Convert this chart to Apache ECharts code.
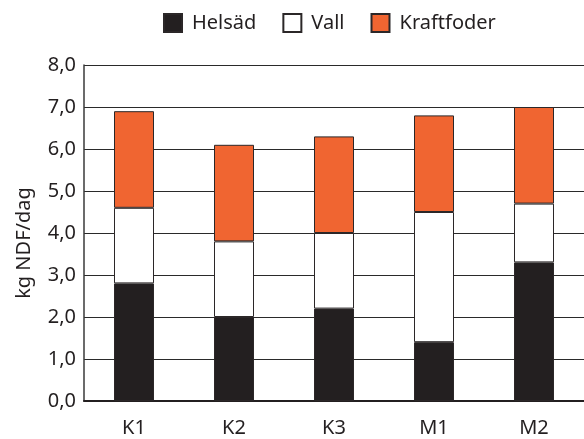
<!DOCTYPE html>
<html>
<head>
<meta charset="utf-8">
<script src="https://cdn.jsdelivr.net/npm/echarts@6/dist/echarts.min.js"></script>
<style>
html,body{margin:0;padding:0;background:#fff;}
#main{width:584px;height:439px;}
</style>
</head>
<body>
<div id="main"></div>
<script>
var categories = ['K1', 'K2', 'K3', 'M1', 'M2'];
var helsad = [2.8, 2.0, 2.2, 1.4, 3.3];
var vall = [1.8, 1.8, 1.8, 3.1, 1.4];
var kraftfoder = [2.3, 2.3, 2.3, 2.3, 2.3];
var seriesNames = ['Helsäd', 'Vall', 'Kraftfoder'];
var yAxisTitle = 'kg NDF/dag';

var FONT = 'Noto Sans';
var TXT = '#231f20';
var chart = echarts.init(document.getElementById('main'));
function bar(name, data, color) {
  return {
    name: name, type: 'bar', stack: 'total', data: data, barWidth: 40,
    itemStyle: { color: color, borderColor: '#2b2728', borderWidth: 1 }
  };
}
chart.setOption({
  animation: false,
  legend: {
    left: 158, top: 8, itemWidth: 18, itemHeight: 18, itemGap: 26,
    icon: 'rect',
    textStyle: { fontFamily: FONT, fontSize: 20, color: TXT, padding: [0, 0, 0, 5] },
    data: seriesNames
  },
  grid: { left: 84, right: 0, top: 65, bottom: 38 },
  xAxis: {
    type: 'category', data: categories,
    axisLine: { lineStyle: { color: '#231f20', width: 2 } },
    axisTick: { show: false },
    axisLabel: { fontFamily: FONT, fontSize: 20, color: TXT, margin: 17 }
  },
  yAxis: {
    type: 'value', min: 0, max: 8, interval: 1,
    axisLine: { show: true, lineStyle: { color: '#3a3a3a', width: 1.5 } },
    axisTick: { show: false },
    splitLine: { lineStyle: { color: '#2a2a2a', width: 1.2 } },
    axisLabel: {
      fontFamily: FONT, fontSize: 20, color: TXT, margin: 8,
      formatter: function (v) { return v.toFixed(1).replace('.', ','); }
    }
  },
  graphic: [{
    type: 'text', x: 24, y: 243, rotation: Math.PI / 2,
    style: { text: yAxisTitle, fontFamily: FONT, fontSize: 20, fill: TXT,
             textAlign: 'center', textVerticalAlign: 'middle' }
  }],
  series: [
    bar(seriesNames[0], helsad, '#231f20'),
    bar(seriesNames[1], vall, '#ffffff'),
    bar(seriesNames[2], kraftfoder, '#f06531')
  ]
});
</script>
</body>
</html>
